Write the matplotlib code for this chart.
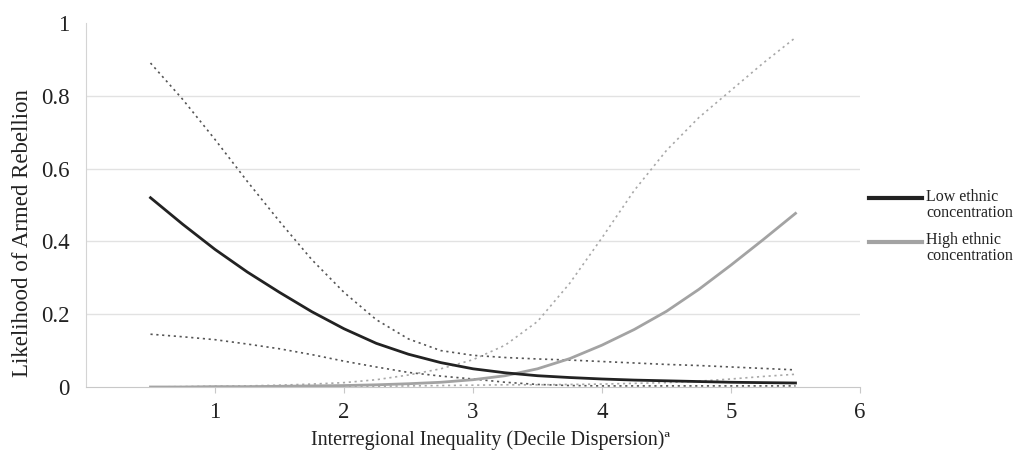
import numpy as np
import matplotlib.pyplot as plt

# Interregional inequality (decile dispersion)
x = [0.5, 0.75, 1.0, 1.25, 1.5, 1.75, 2.0, 2.25, 2.5, 2.75, 3.0,
     3.25, 3.5, 3.75, 4.0, 4.25, 4.5, 4.75, 5.0, 5.25, 5.5]

# Low ethnic concentration: estimate and confidence bounds
low = [0.52, 0.447, 0.378, 0.316, 0.26, 0.207, 0.16, 0.12, 0.09, 0.067, 0.05,
       0.039, 0.031, 0.026, 0.022, 0.019, 0.017, 0.015, 0.013, 0.012, 0.011]
low_upper = [0.89, 0.79, 0.68, 0.565, 0.455, 0.35, 0.26, 0.185, 0.132, 0.1, 0.087,
             0.081, 0.077, 0.074, 0.07, 0.066, 0.062, 0.059, 0.055, 0.051, 0.047]
low_lower = [0.145, 0.138, 0.13, 0.118, 0.105, 0.089, 0.071, 0.055, 0.04, 0.03, 0.022,
             0.013, 0.007, 0.004, 0.003, 0.003, 0.003, 0.003, 0.003, 0.003, 0.003]

# High ethnic concentration: estimate and confidence bounds
high = [0.0, 0.0, 0.001, 0.001, 0.002, 0.003, 0.004, 0.006, 0.009, 0.013, 0.02,
        0.031, 0.05, 0.078, 0.115, 0.158, 0.208, 0.268, 0.335, 0.405, 0.477]
high_upper = [0.0, 0.001, 0.002, 0.003, 0.005, 0.008, 0.012, 0.02, 0.033, 0.05, 0.075,
              0.115, 0.18, 0.285, 0.41, 0.54, 0.65, 0.74, 0.815, 0.89, 0.96]
high_lower = [0.0, 0.0, 0.0, 0.0, 0.0, 0.001, 0.001, 0.002, 0.003, 0.004, 0.005,
              0.006, 0.006, 0.007, 0.008, 0.01, 0.012, 0.016, 0.022, 0.029, 0.035]

x_ticks = [1, 2, 3, 4, 5, 6]
y_ticks = [0, 0.2, 0.4, 0.6, 0.8, 1]
y_tick_labels = ["0", "0.2", "0.4", "0.6", "0.8", "1"]

plt.rcParams['font.family'] = ['Liberation Serif', 'DejaVu Serif']
txt = '#222222'

fig = plt.figure(figsize=(10.19, 4.53), dpi=100)
ax = fig.add_axes([86 / 1019, 1 - 387 / 453, 774 / 1019, 364 / 453])

dot = (0, (1.3, 2.2))
ax.plot(x, low_upper, color='#555555', lw=1.2, linestyle=dot)
ax.plot(x, low_lower, color='#555555', lw=1.2, linestyle=dot)
ax.plot(x, high_upper, color='#a8a8a8', lw=1.2, linestyle=dot)
ax.plot(x, high_lower, color='#a8a8a8', lw=1.2, linestyle=dot)
ax.plot(x, high, color='#a3a3a3', lw=2.0, label="High ethnic\nconcentration")
ax.plot(x, low, color='#222222', lw=2.0, label="Low ethnic\nconcentration")

ax.set_xlim(0, 6)
ax.set_ylim(0, 1)
ax.set_xticks(x_ticks)
ax.set_yticks(y_ticks)
ax.set_yticklabels(y_tick_labels)
for yv in y_ticks[1:-1]:
    ax.axhline(yv, color='#e2e2e2', lw=1, zorder=0)

for s in ['top', 'right']:
    ax.spines[s].set_visible(False)
ax.spines['left'].set_color('#d4d4d4')
ax.spines['bottom'].set_color('#c8c8c8')
ax.tick_params(axis='y', length=0, pad=12, labelsize=16.5, labelcolor=txt)
ax.tick_params(axis='x', length=4, color='#c8c8c8', pad=7, labelsize=16.5, labelcolor=txt)

ax.set_xlabel("Interregional Inequality (Decile Dispersion)ª", fontsize=14.5, color=txt)
ax.xaxis.set_label_coords(0.522, -0.118)
ax.set_ylabel("Likelihood of Armed Rebellion", fontsize=16.5, color=txt)
ax.yaxis.set_label_coords(-0.068, 0.423)

h, l = ax.get_legend_handles_labels()
leg = fig.legend(h[::-1], l[::-1], loc='upper left', bbox_to_anchor=(869 / 1019, 0.583),
                 frameon=False, fontsize=11.5, handlelength=3.3, handletextpad=0.3,
                 borderpad=0, borderaxespad=0, labelspacing=0.7)
for t in leg.get_texts():
    t.set_color(txt)
    t.set_linespacing(1.0)
for ln in leg.get_lines():
    ln.set_linewidth(3)
    ln.set_ydata(np.array(ln.get_ydata()) + 5)

fig.savefig("out.png", dpi=100)
